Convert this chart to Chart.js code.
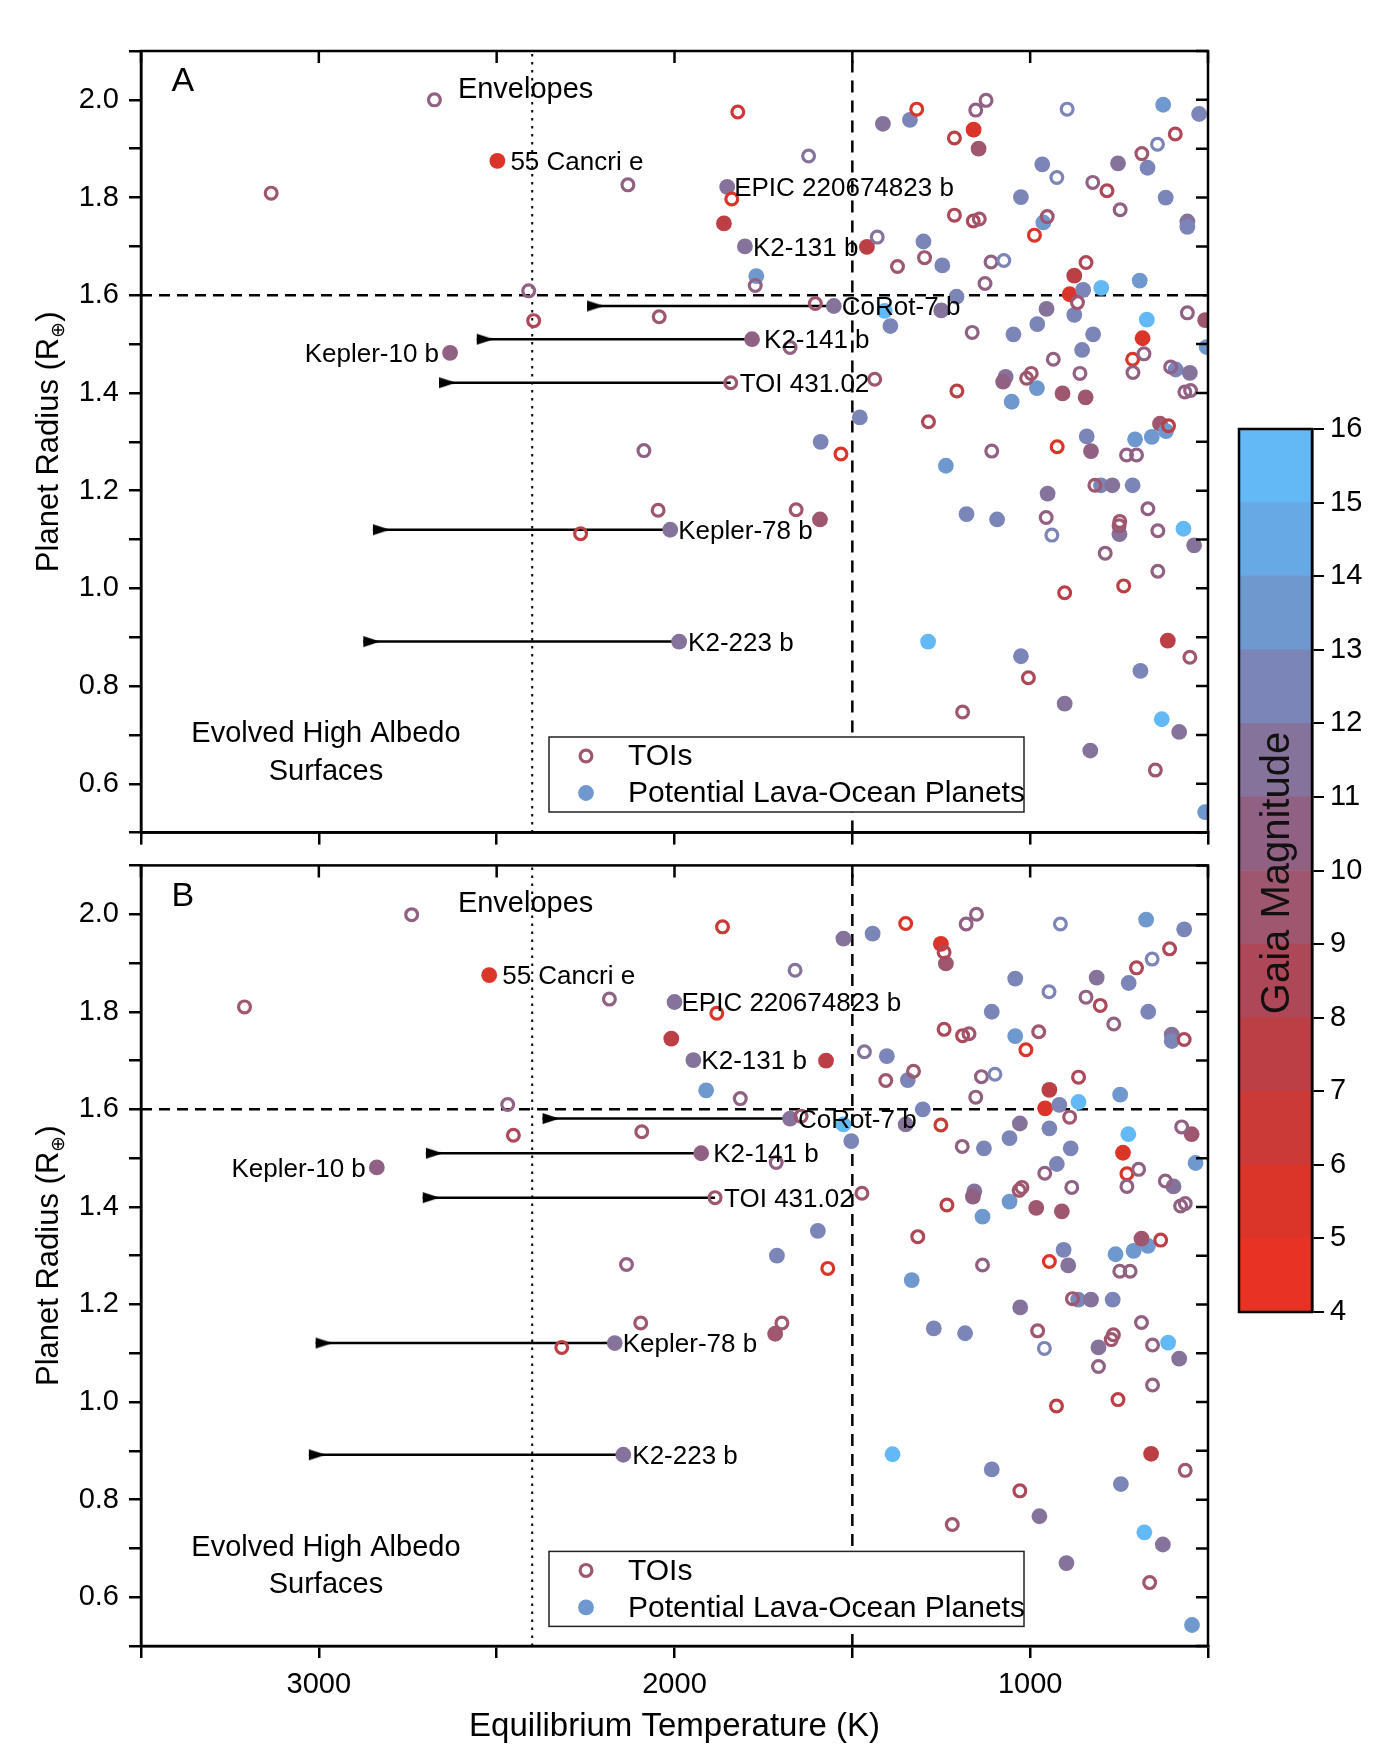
<!DOCTYPE html>
<html>
<head>
<meta charset="utf-8">
<title>Potential lava-ocean planets</title>
<script src="https://cdn.jsdelivr.net/npm/chart.js@4.4.1/dist/chart.umd.min.js"></script>
<style>
    html, body { margin: 0; padding: 0; background: #fff; }
    #wrap { position: relative; width: 1384px; height: 1764px; background: #fff; }
    canvas { position: absolute; }
</style>
</head>
<body>
<div id="wrap">
    <canvas id="panelA" width="1384" height="860" style="left:0px;top:0px"></canvas>
    <canvas id="panelB" width="1384" height="926" style="left:0px;top:838px"></canvas>
    <canvas id="colorbar" width="184" height="950" style="left:1200px;top:400px"></canvas>
</div>
<script>
// Gaia magnitude colour scale (bands of 1 mag, 4 -> 16)
const magTicks = [4, 5, 6, 7, 8, 9, 10, 11, 12, 13, 14, 15, 16];
const bandColors = ['#E83224', '#DA3528', '#CB3A37', '#BD3F46', '#AE4859', '#9F566F',
                    '#916184', '#86739B', '#7B85B7', '#6F98CF', '#67A9E4', '#62B9F6'];

// Reference lines
const radiusLimit = 1.6;
const tempLimit = 1500;
const tempDotted = 2400;

// Named planets
const planetNames = ['55 Cancri e', 'Kepler-10 b', 'EPIC 220674823 b', 'K2-131 b', 'CoRot-7 b',
                     'K2-141 b', 'TOI 431.02', 'Kepler-78 b', 'K2-223 b'];
const planetIsToi = [false, false, false, false, false, false, true, false, false];
const planetMag = [5, 10.5, 11.5, 11.5, 11.5, 10, 9, 11.5, 11.5];
const planetTempA = [2498, 2631, 1852, 1802, 1552, 1782, 1842, 2012, 1987];
const planetRadA = [1.875, 1.482, 1.822, 1.700, 1.578, 1.510, 1.421, 1.120, 0.891];
const arrowTipA = [null, null, null, null, 2246, 2556, 2662, 2848, 2875];
const planetTempB = [2521, 2837, 2000, 1947, 1675, 1925, 1886, 2168, 2144];
const planetRadB = [1.875, 1.481, 1.820, 1.701, 1.581, 1.510, 1.419, 1.121, 0.892];
const arrowTipB = [null, null, null, null, 2371, 2699, 2708, 3009, 3028];

// Panel A - TOIs
const toiTempA = [2675, 3134, 2131, 2410, 2396, 2043, 2086, 2046, 2264, 1822, 1623, 1839, 1773, 1604, 1675,
    1437, 1658, 1532, 1319, 1153, 1124, 1213, 896, 592, 642, 686, 925, 824, 784, 747, 1213, 1160, 1143,
    952, 988, 1430, 1373, 1297, 1110, 1074, 1127, 843, 867, 1163, 558, 712, 680, 935, 860, 711, 605, 565,
    549, 997, 1010, 1206, 1286, 1108, 924, 611, 729, 701, 818, 669, 955, 939, 748, 750, 641, 789, 641,
    737, 903, 551, 1005, 1190, 648];
const toiRadA = [2.00, 1.809, 1.826, 1.609, 1.548, 1.556, 1.282, 1.160, 1.112, 1.975, 1.885, 1.797, 1.620,
    1.583, 1.493, 1.428, 1.161, 1.275, 1.981, 1.979, 1.999, 1.922, 1.981, 1.930, 1.909, 1.890, 1.841, 1.831,
    1.814, 1.775, 1.764, 1.752, 1.756, 1.761, 1.723, 1.719, 1.659, 1.677, 1.668, 1.671, 1.624, 1.667, 1.585,
    1.524, 1.564, 1.469, 1.480, 1.469, 1.440, 1.442, 1.453, 1.402, 1.405, 1.440, 1.430, 1.404, 1.341, 1.281,
    1.290, 1.333, 1.273, 1.273, 1.211, 1.163, 1.145, 1.109, 1.137, 1.128, 1.118, 1.072, 1.035, 1.005, 0.991,
    0.859, 0.817, 0.747, 0.628];
const toiMagA = [10.5, 9, 10.5, 10.5, 8, 9, 10.5, 9, 7, 6.5, 11, 5.5, 10.5, 9.5, 10, 9, 9, 5.5, 5, 10.5, 10.5,
    7.5, 12.5, 8, 12.5, 9, 12, 10.5, 8.5, 10.5, 8.5, 8, 9, 9, 5, 11, 9, 9.5, 10.5, 12.5, 10.5, 8, 9, 10.5,
    10.5, 5, 10.5, 10.5, 10.5, 10.5, 10.5, 10.5, 10.5, 9, 9, 7.5, 8, 10.5, 5, 7.5, 10.5, 10.5, 9, 10.5, 10.5,
    12.5, 9, 9, 10, 10.5, 10, 7.5, 7.5, 9, 8, 9, 9];

// Panel A - potential lava-ocean planets
const lavaTempA = [1861, 1770, 1459, 1591, 1589, 1414, 1338, 1159, 1145, 626, 525, 753, 670, 966, 1026, 619,
    963, 558, 558, 1300, 1247, 1207, 876, 889, 851, 800, 692, 954, 876, 1409, 1250, 1393, 1047, 980, 823, 854,
    508, 672, 684, 504, 591, 551, 1069, 1076, 981, 1052, 909, 844, 1479, 841, 829, 635, 705, 658, 618, 1237,
    801, 769, 712, 951, 1179, 1093, 749, 569, 539, 1287, 613, 1026, 690, 903, 630, 581, 831, 508];
const lavaRadA = [1.747, 1.639, 1.699, 1.141, 1.300, 1.951, 1.959, 1.939, 1.900, 1.990, 1.971, 1.870, 1.861,
    1.868, 1.801, 1.800, 1.749, 1.751, 1.740, 1.710, 1.661, 1.597, 1.640, 1.602, 1.611, 1.615, 1.630, 1.572,
    1.560, 1.568, 1.569, 1.537, 1.520, 1.541, 1.520, 1.488, 1.549, 1.550, 1.512, 1.494, 1.448, 1.441, 1.433,
    1.423, 1.410, 1.382, 1.399, 1.391, 1.350, 1.311, 1.281, 1.337, 1.305, 1.310, 1.322, 1.251, 1.211, 1.211,
    1.211, 1.194, 1.152, 1.141, 1.111, 1.122, 1.088, 0.891, 0.893, 0.861, 0.831, 0.764, 0.732, 0.706, 0.668,
    0.542];
const lavaMagA = [7.5, 13.5, 7.5, 9.5, 12.5, 11.5, 12.5, 5.5, 9.5, 13.5, 12.5, 11.5, 12.5, 12.5, 12.5, 12.5,
    13, 11.5, 12.5, 12.5, 12.5, 12.5, 7.5, 5, 12.5, 15.5, 13.5, 11.5, 12.5, 15, 11.5, 12.5, 12.5, 12.5, 12.5,
    12.5, 9.5, 15, 5, 13.5, 12.5, 11.5, 11.5, 10.5, 13.5, 13.5, 9.5, 9.5, 12.5, 12.5, 10, 9.5, 13.5, 13.5,
    13.5, 13.5, 12.5, 11, 12.5, 11.5, 12.5, 12.5, 11, 15.5, 11.5, 15, 7, 12.5, 12.5, 11.5, 15, 11.5, 11.5, 13.5];

// Panel B - TOIs
const toiTempB = [2739, 3209, 2183, 2469, 2453, 2092, 2135, 2095, 2317, 1865, 1350, 1180, 1151, 1242, 915,
    608, 657, 701, 947, 843, 803, 765, 567, 1881, 1242, 1190, 1172, 976, 1012, 1466, 1406, 1328, 1137, 1099,
    1153, 1815, 864, 889, 1251, 1191, 728, 695, 574, 959, 883, 728, 620, 577, 564, 1031, 1023, 1473, 1234,
    1316, 1569, 1134, 946, 633, 748, 719, 1661, 1644, 1714, 1698, 979, 960, 766, 772, 687, 656, 808, 656,
    753, 926, 564, 1029, 1219, 664, 881];
const toiRadB = [1.999, 1.810, 1.826, 1.610, 1.547, 1.554, 1.282, 1.162, 1.112, 1.974, 1.981, 1.980, 2.000,
    1.922, 1.980, 1.929, 1.908, 1.890, 1.841, 1.830, 1.813, 1.775, 1.743, 1.797, 1.764, 1.751, 1.755, 1.759,
    1.722, 1.718, 1.659, 1.678, 1.667, 1.672, 1.625, 1.622, 1.666, 1.584, 1.568, 1.524, 1.468, 1.477, 1.564,
    1.469, 1.440, 1.442, 1.453, 1.402, 1.407, 1.434, 1.440, 1.428, 1.404, 1.339, 1.274, 1.281, 1.288, 1.332,
    1.268, 1.268, 1.885, 1.586, 1.491, 1.162, 1.146, 1.110, 1.138, 1.128, 1.163, 1.117, 1.073, 1.035, 1.005,
    0.992, 0.860, 0.818, 0.749, 0.630, 1.212];
const toiMagB = [10.5, 9, 10.5, 10.5, 8.5, 9, 10.5, 9, 7, 6.5, 5, 10.5, 10.5, 8, 12.5, 8, 12.5, 8.5, 12, 10.5,
    8.5, 10.5, 8, 5.5, 8.5, 8, 9, 9, 5, 11, 9, 9.5, 10.5, 12.5, 10.5, 10.5, 8, 9, 6, 10.5, 5, 10.5, 10.5, 10.5,
    10.5, 10.5, 10.5, 10.5, 10.5, 9, 9, 9, 7.5, 8, 5.5, 10.5, 5, 7.5, 10.5, 10.5, 11, 9.5, 10, 9, 9, 12.5, 9,
    9, 10.5, 10, 10.5, 10, 7.5, 7.5, 9, 8, 9, 9, 9];

// Panel B - potential lava-ocean planets
const lavaTempB = [2009, 1911, 1525, 1443, 1251, 1237, 674, 567, 813, 723, 1042, 1108, 668, 602, 602, 1042,
    1574, 1403, 1344, 1302, 946, 958, 918, 864, 747, 1525, 1503, 1350, 1029, 946, 1130, 1058, 886, 925, 724,
    739, 546, 535, 597, 1157, 1161, 1058, 1134, 983, 911, 1597, 1712, 1333, 906, 893, 760, 709, 669, 687,
    1717, 865, 829, 768, 1028, 1271, 1183, 808, 612, 581, 1387, 660, 1108, 745, 974, 679, 627, 898, 545];
const lavaRadB = [1.745, 1.639, 1.950, 1.960, 1.939, 1.899, 1.989, 1.969, 1.870, 1.859, 1.868, 1.800, 1.800,
    1.753, 1.740, 1.750, 1.700, 1.709, 1.660, 1.600, 1.640, 1.602, 1.609, 1.615, 1.630, 1.569, 1.535, 1.569,
    1.571, 1.561, 1.520, 1.541, 1.520, 1.488, 1.549, 1.511, 1.549, 1.490, 1.442, 1.432, 1.421, 1.411, 1.380,
    1.398, 1.391, 1.351, 1.300, 1.250, 1.312, 1.280, 1.303, 1.310, 1.320, 1.335, 1.140, 1.210, 1.210, 1.210,
    1.194, 1.151, 1.141, 1.112, 1.122, 1.089, 0.893, 0.894, 0.862, 0.832, 0.766, 0.733, 0.708, 0.670, 0.543];
const lavaMagB = [7.5, 13.5, 11.5, 12.5, 5.5, 9.5, 13.5, 12.5, 11.5, 12.5, 12.5, 12.5, 12.5, 11.5, 12.5, 13,
    7.5, 12.5, 12.5, 12.5, 7.5, 5, 12.5, 15.5, 13.5, 15, 12.5, 11.5, 11.5, 12.5, 12.5, 12.5, 12.5, 12.5, 15, 5,
    9.5, 13.5, 11.5, 11.5, 10, 13.5, 13.5, 9.5, 9.5, 12.5, 12.5, 13.5, 12.5, 11, 13.5, 13.5, 13.5, 9.5, 9.5,
    12.5, 11, 12.5, 11.5, 12.5, 12.5, 11, 15.5, 11.5, 15, 7, 12.5, 12.5, 11.5, 15, 11.5, 11.5, 13.5];

// Text placement (data coordinates) and label offsets (px)
const notePos = { letter: [3414, 2.037], envelopes: [2609, 2.02], evolved: [2980, 0.701], surfaces: [2980, 0.625] };
const labelOffset = { '55 Cancri e': 13, 'Kepler-10 b': -11, 'EPIC 220674823 b': 7, 'K2-131 b': 8,
                      'CoRot-7 b': 8, 'K2-141 b': 12, 'TOI 431.02': 9, 'Kepler-78 b': 8, 'K2-223 b': 9 };

const FONT = '"Liberation Sans", Arial, Helvetica, sans-serif';
Chart.defaults.font.family = FONT;
Chart.defaults.color = '#000';

function colorFor(mag) {
    const i = Math.max(0, Math.min(bandColors.length - 1, Math.floor(mag - magTicks[0])));
    return bandColors[i];
}

function pts(xs, ys) {
    return xs.map((x, i) => ({ x: x, y: ys[i] }));
}

// Arrowhead image: flat side sits on the data point, apex points right
function makeArrowHead() {
    const c = document.createElement('canvas');
    c.width = 36;
    c.height = 13;
    const g = c.getContext('2d');
    g.fillStyle = '#000';
    g.beginPath();
    g.moveTo(18, 1);
    g.lineTo(35, 6.5);
    g.lineTo(18, 12);
    g.closePath();
    g.fill();
    return c;
}
const arrowHead = makeArrowHead();

function buildPanel(canvasId, panel, layout) {
    const toiT = panel.toiTemp.slice(), toiR = panel.toiRad.slice(), toiM = panel.toiMag.slice();
    const lavaT = panel.lavaTemp.slice(), lavaR = panel.lavaRad.slice(), lavaM = panel.lavaMag.slice();
    planetNames.forEach((name, i) => {
        if (planetIsToi[i]) {
            toiT.push(panel.planetTemp[i]); toiR.push(panel.planetRad[i]); toiM.push(planetMag[i]);
        } else {
            lavaT.push(panel.planetTemp[i]); lavaR.push(panel.planetRad[i]); lavaM.push(planetMag[i]);
        }
    });

    const datasets = [
        {
            label: 'TOIs', order: 0, clip: 0,
            data: pts(toiT, toiR),
            pointStyle: 'circle', pointRadius: 5.9, pointBorderWidth: 3.2,
            pointBackgroundColor: 'rgba(0,0,0,0)',
            pointBorderColor: toiM.map(colorFor)
        },
        {
            label: 'Potential Lava-Ocean Planets', order: 1, clip: 0,
            data: pts(lavaT, lavaR),
            pointStyle: 'circle', pointRadius: 7.9, pointBorderWidth: 0,
            pointBackgroundColor: lavaM.map(colorFor),
            pointBorderColor: lavaM.map(colorFor)
        }
    ];

    // Arrows to the hotter temperature estimate
    planetNames.forEach((name, i) => {
        if (panel.arrowTip[i] === null) return;
        datasets.push({
            type: 'line', order: 2, clip: 0,
            data: [{ x: panel.planetTemp[i], y: panel.planetRad[i] }, { x: panel.arrowTip[i], y: panel.planetRad[i] }],
            borderColor: '#000', borderWidth: 2.5, fill: false,
            pointRadius: [0, 8], pointStyle: ['circle', arrowHead], pointBorderWidth: 0
        });
    });

    // Reference lines
    datasets.push({
        type: 'line', order: 3, clip: 0,
        data: [{ x: 3500, y: radiusLimit }, { x: 500, y: radiusLimit }],
        borderColor: '#000', borderWidth: 2.5, borderDash: [11, 7], pointRadius: 0, fill: false
    });
    datasets.push({
        type: 'line', order: 3, clip: 0,
        data: [{ x: tempLimit, y: 0.5 }, { x: tempLimit, y: 2.1 }],
        borderColor: '#000', borderWidth: 2.5, borderDash: [12, 8], pointRadius: 0, fill: false
    });
    datasets.push({
        type: 'line', order: 3, clip: 0,
        data: [{ x: tempDotted, y: 0.5 }, { x: tempDotted, y: 2.1 }],
        borderColor: '#000', borderWidth: 2, borderDash: [2.5, 5.5], pointRadius: 0, fill: false
    });

    const decor = {
        id: 'decor' + panel.letter,
        afterDatasetsDraw(chart) {
            const ctx = chart.ctx;
            const xs = chart.scales.x, ys = chart.scales.y, area = chart.chartArea;
            ctx.save();
            ctx.fillStyle = '#000';
            ctx.textBaseline = 'middle';

            // Planet labels
            ctx.font = '26px ' + FONT;
            planetNames.forEach((name, i) => {
                const dx = labelOffset[name];
                ctx.textAlign = dx < 0 ? 'right' : 'left';
                ctx.fillText(name, xs.getPixelForValue(panel.planetTemp[i]) + dx,
                             ys.getPixelForValue(panel.planetRad[i]) + 2);
            });

            // Region notes
            ctx.font = '29px ' + FONT;
            ctx.textAlign = 'left';
            ctx.fillText('Envelopes', xs.getPixelForValue(notePos.envelopes[0]), ys.getPixelForValue(notePos.envelopes[1]));
            ctx.textAlign = 'center';
            ctx.fillText('Evolved High Albedo', xs.getPixelForValue(notePos.evolved[0]), ys.getPixelForValue(notePos.evolved[1]));
            ctx.fillText('Surfaces', xs.getPixelForValue(notePos.surfaces[0]), ys.getPixelForValue(notePos.surfaces[1]));
            ctx.font = '34px ' + FONT;
            ctx.textAlign = 'left';
            ctx.fillText(panel.letter, xs.getPixelForValue(notePos.letter[0]), ys.getPixelForValue(notePos.letter[1]));

            // Legend box
            const bx = area.left + 408, by = area.top + 686, bw = 475, bh = 75;
            ctx.fillStyle = '#fff';
            ctx.fillRect(bx, by, bw, bh);
            ctx.strokeStyle = '#222';
            ctx.lineWidth = 1.5;
            ctx.strokeRect(bx, by, bw, bh);
            ctx.lineWidth = 3.2;
            ctx.strokeStyle = colorFor(9.5);
            ctx.beginPath();
            ctx.arc(bx + 37, by + 19, 5.9, 0, Math.PI * 2);
            ctx.stroke();
            ctx.fillStyle = colorFor(13.5);
            ctx.beginPath();
            ctx.arc(bx + 37, by + 56, 7.9, 0, Math.PI * 2);
            ctx.fill();
            ctx.fillStyle = '#000';
            ctx.font = '30px ' + FONT;
            ctx.textAlign = 'left';
            ctx.fillText('TOIs', bx + 79, by + 20);
            ctx.fillText('Potential Lava-Ocean Planets', bx + 79, by + 57);
            ctx.restore();
        },
        afterDraw(chart) {
            const ctx = chart.ctx;
            const xs = chart.scales.x, ys = chart.scales.y, area = chart.chartArea;
            ctx.save();
            // Frame and inward mirror ticks
            ctx.strokeStyle = '#000';
            ctx.lineWidth = 2.5;
            ctx.strokeRect(area.left, area.top, area.right - area.left, area.bottom - area.top);
            ctx.beginPath();
            xs.ticks.forEach(t => {
                const px = xs.getPixelForValue(t.value);
                ctx.moveTo(px, area.top);
                ctx.lineTo(px, area.top + 12);
            });
            ys.ticks.forEach(t => {
                const py = ys.getPixelForValue(t.value);
                ctx.moveTo(area.right, py);
                ctx.lineTo(area.right - 12, py);
            });
            ctx.stroke();

            // Y axis title with subscript
            ctx.translate(47, (area.top + area.bottom) / 2);
            ctx.rotate(-Math.PI / 2);
            ctx.fillStyle = '#000';
            ctx.textAlign = 'left';
            ctx.textBaseline = 'alphabetic';
            const main = 'Planet Radius (R', sub = '\u2295', tail = ')';
            ctx.font = '31px ' + FONT;
            const wMain = ctx.measureText(main).width, wTail = ctx.measureText(tail).width;
            ctx.font = '19px ' + FONT;
            const wSub = ctx.measureText(sub).width;
            let x0 = -(wMain + wSub + wTail) / 2;
            ctx.font = '31px ' + FONT;
            ctx.fillText(main, x0, 11);
            ctx.font = '19px ' + FONT;
            ctx.fillText(sub, x0 + wMain, 17);
            ctx.font = '31px ' + FONT;
            ctx.fillText(tail, x0 + wMain + wSub, 11);
            ctx.restore();
        }
    };

    return new Chart(document.getElementById(canvasId), {
        type: 'scatter',
        data: { datasets: datasets },
        options: {
            responsive: false,
            animation: false,
            devicePixelRatio: 1,
            events: [],
            layout: { padding: { top: layout.padTop, right: 176, left: 0, bottom: 0 } },
            plugins: { legend: { display: false }, tooltip: { enabled: false } },
            scales: {
                x: {
                    type: 'linear', min: 500, max: 3500, reverse: true,
                    ticks: {
                        stepSize: 500, autoSkip: false, maxRotation: 0, padding: 10,
                        font: { size: 29 }, color: '#000',
                        callback: v => (layout.tempLabels && v % 1000 === 0 && v >= 1000 && v <= 3000) ? String(v) : ''
                    },
                    grid: { drawOnChartArea: false, drawTicks: true, tickLength: 12, color: '#000', lineWidth: 2.5 },
                    border: { display: true, color: '#000', width: 2.5 },
                    title: {
                        display: layout.tempLabels, text: 'Equilibrium Temperature (K)',
                        font: { size: 33 }, color: '#000', padding: { top: 0, bottom: 17 }
                    },
                    afterFit: s => { s.height = layout.axisHeight; }
                },
                y: {
                    type: 'linear', min: 0.5, max: 2.1,
                    ticks: {
                        stepSize: 0.1, autoSkip: false, padding: 10,
                        font: { size: 29 }, color: '#000',
                        callback: v => {
                            const k = Math.round(v * 10);
                            return (k % 2 === 0 && k >= 6 && k <= 20) ? (k / 10).toFixed(1) : '';
                        }
                    },
                    grid: { drawOnChartArea: false, drawTicks: true, tickLength: 12, color: '#000', lineWidth: 2.5 },
                    border: { display: true, color: '#000', width: 2.5 },
                    afterFit: s => { s.width = 141; }
                }
            }
        },
        plugins: [decor]
    });
}

buildPanel('panelA', {
    letter: 'A',
    toiTemp: toiTempA, toiRad: toiRadA, toiMag: toiMagA,
    lavaTemp: lavaTempA, lavaRad: lavaRadA, lavaMag: lavaMagA,
    planetTemp: planetTempA, planetRad: planetRadA, arrowTip: arrowTipA
}, { padTop: 51, axisHeight: 27, tempLabels: false });

buildPanel('panelB', {
    letter: 'B',
    toiTemp: toiTempB, toiRad: toiRadB, toiMag: toiMagB,
    lavaTemp: lavaTempB, lavaRad: lavaRadB, lavaMag: lavaMagB,
    planetTemp: planetTempB, planetRad: planetRadB, arrowTip: arrowTipB
}, { padTop: 14, axisHeight: 118, tempLabels: true });

// Colour bar as floating bars on a magnitude scale
const colorbarDecor = {
    id: 'colorbarDecor',
    afterDraw(chart) {
        const ctx = chart.ctx, area = chart.chartArea;
        ctx.save();
        ctx.strokeStyle = '#000';
        ctx.lineWidth = 2.5;
        ctx.strokeRect(area.left, area.top, area.right - area.left, area.bottom - area.top);
        ctx.translate((area.left + area.right) / 2 + 2, area.top + 444);
        ctx.rotate(-Math.PI / 2);
        ctx.fillStyle = '#111';
        ctx.font = '40px ' + FONT;
        ctx.textAlign = 'center';
        ctx.textBaseline = 'middle';
        ctx.fillText('Gaia Magnitude', 0, 0);
        ctx.restore();
    }
};

new Chart(document.getElementById('colorbar'), {
    type: 'bar',
    data: {
        labels: ['Gaia'],
        datasets: bandColors.map((c, i) => ({
            data: [[magTicks[i], magTicks[i + 1]]],
            backgroundColor: c, borderWidth: 0,
            grouped: false, barPercentage: 1, categoryPercentage: 1
        }))
    },
    options: {
        responsive: false,
        animation: false,
        devicePixelRatio: 1,
        events: [],
        layout: { padding: { left: 39, top: 29, bottom: 38, right: 0 } },
        plugins: { legend: { display: false }, tooltip: { enabled: false } },
        scales: {
            x: { display: false },
            y: {
                position: 'right', min: 4, max: 16,
                ticks: { stepSize: 1, autoSkip: false, padding: 6, font: { size: 29 }, color: '#000' },
                grid: { drawOnChartArea: false, drawTicks: true, tickLength: 12, color: '#000', lineWidth: 2 },
                border: { display: true, color: '#000', width: 2.5 },
                afterFit: s => { s.width = 72; }
            }
        }
    },
    plugins: [colorbarDecor]
});
</script>
</body>
</html>
